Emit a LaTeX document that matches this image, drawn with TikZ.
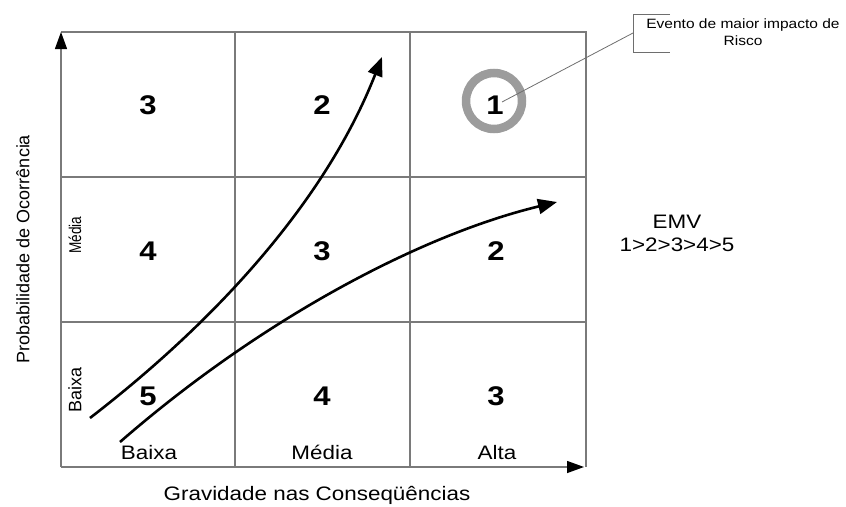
\documentclass[tikz,border=0pt]{standalone}
\usepackage{fontspec}
\setmainfont{Liberation Sans}[FakeStretch=1.15]
\newfontfamily\rotfont{Liberation Sans}
\usetikzlibrary{arrows.meta}
\definecolor{gridgray}{HTML}{7A7A7A}
\definecolor{ringgray}{HTML}{9C9C9C}
\definecolor{callgray}{HTML}{6E6E6E}
\begin{document}
\begin{tikzpicture}[x=1pt,y=-1pt,
  gridline/.style={draw=gridgray, line width=1.3pt},
  axisarrow/.style={draw=gridgray, line width=1.3pt, -{Triangle[length=17pt,width=12pt,color=black]}},
  trend/.style={draw=black, line width=2.6pt, -{Triangle[length=19pt,width=15pt]}},
  digit/.style={font=\fontsize{27}{30}\selectfont\bfseries, inner sep=0pt, anchor=base},
  lbl/.style={font=\fontsize{19.5}{22}\selectfont, inner sep=0pt},
  small/.style={font=\fontsize{13.5}{17}\selectfont, align=center, inner sep=0pt},
]
\useasboundingbox (0,0) rectangle (846,506);

% grid corners
\coordinate (o) at (61,467);
\coordinate (ytop) at (61,32);
\coordinate (xend) at (584,467);
\coordinate (tr) at (586,32);
\coordinate (br) at (586,467);

% grid lines
\draw[gridline] (ytop) -- (tr) -- (br);
\draw[gridline] (235,32) -- (235,467);
\draw[gridline] (410,32) -- (410,467);
\draw[gridline] (61,177) -- (586,177);
\draw[gridline] (61,322) -- (586,322);

% axes
\draw[axisarrow] (o) -- (ytop);
\draw[axisarrow] (o) -- (xend);

% cell numbers
\node[digit] (c13) at (148,114) {3};
\node[digit] (c23) at (322,114) {2};
\node[draw=ringgray, line width=8.5pt, circle, minimum size=56pt, inner sep=0pt] (ring) at (494,101) {};
\node[digit] (c33) at (495,114) {1};
\node[digit] (c12) at (148,260) {4};
\node[digit] (c22) at (322,260) {3};
\node[digit] (c32) at (496,260) {2};
\node[digit] (c11) at (148,405) {5};
\node[digit] (c21) at (322,405) {4};
\node[digit] (c31) at (496,405) {3};

% axis category labels
\node[lbl, anchor=base] (xb) at (149,459) {Baixa};
\node[lbl, anchor=base] (xm) at (322,459) {Média};
\node[lbl, anchor=base] (xa) at (497,459) {Alta};
\node[rotate=90, inner sep=0pt, font=\rotfont\fontsize{17}{19}\selectfont] (ym) at (75,235) {\scalebox{0.8}[1]{Média}};
\node[rotate=90, inner sep=0pt, font=\rotfont\fontsize{18}{20}\selectfont] (yb) at (75,390) {Baixa};

% axis titles
\node[lbl] (xt) at (317,495) {Gravidade nas Conseqüências};
\node[rotate=90, inner sep=0pt, font=\rotfont\fontsize{18}{20}\selectfont] (yt) at (23,249) {Probabilidade de Ocorrência};

% EMV
\node[lbl, align=center, font=\fontsize{19.5}{23}\selectfont] (emv) at (677,233) {EMV\\1>2>3>4>5};

% trend arrows
\coordinate (a1s) at (90,418);
\coordinate (a1e) at (382,57);
\coordinate (a2s) at (120,442);
\coordinate (a2e) at (557,202);
\draw[trend] (a1s) .. controls (230,310) and (330,190) .. (a1e);
\draw[trend] (a2s) .. controls (260,320) and (420,235) .. (a2e);

% callout
\coordinate (pin) at (502,102);
\coordinate (brk) at (633,33);
\draw[callgray, line width=0.8pt] (pin) -- (brk);
\draw[callgray, line width=0.9pt] (670,14) -- (633,14) -- (633,52) -- (670,52);
\node[small] (call) at (743,32) {Evento de maior impacto de\\Risco};
\end{tikzpicture}
\end{document}
